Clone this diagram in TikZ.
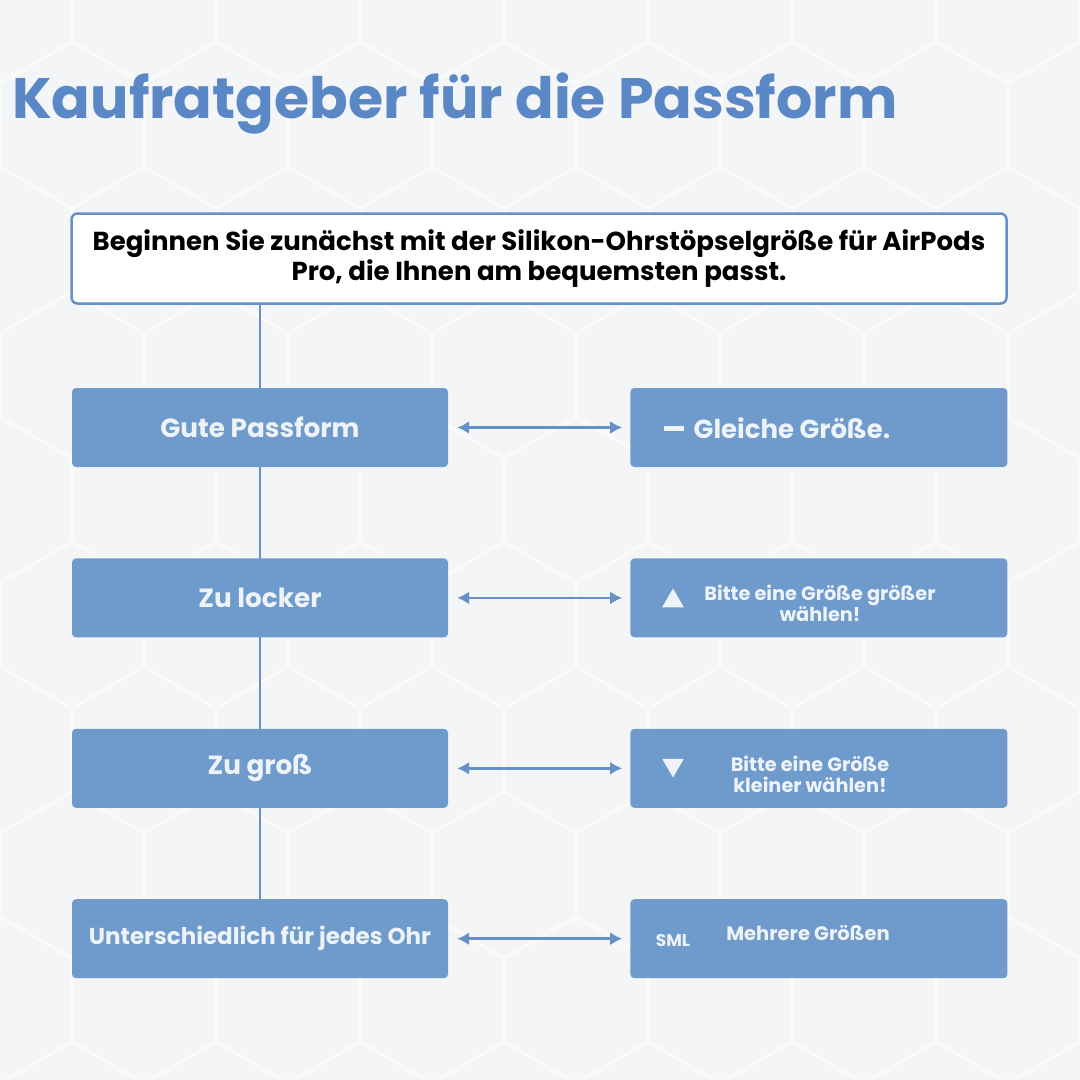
\documentclass[tikz,border=0pt]{standalone}
\usepackage{fontspec}
\setmainfont{Poppins}[BoldFont={Poppins Bold}]
\usetikzlibrary{arrows.meta, positioning, shapes.geometric}

\definecolor{boxblue}{HTML}{6F9ACC}
\definecolor{lineblue}{HTML}{6690C8}
\definecolor{titleblue}{HTML}{5A87C5}
\definecolor{paper}{HTML}{F4F5F7}
\definecolor{hexline}{HTML}{FAFAFB}
\definecolor{boxtext}{HTML}{EEF3F9}

\pgfdeclarelayer{bg}
\pgfdeclarelayer{lines}
\pgfsetlayers{bg,lines,main}

\begin{document}
\begin{tikzpicture}[
    x=1pt, y=-1pt,
    node distance=91pt and 182pt,
    fitbox/.style={rectangle, fill=boxblue, rounded corners=4pt,
                   minimum width=376pt, minimum height=79pt,
                   text=boxtext, font=\fontsize{26.3}{30}\selectfont\bfseries},
    advbox/.style={fitbox, minimum width=377pt},
    startbox/.style={rectangle, draw=lineblue, line width=2.5pt, fill=white,
                     rounded corners=6pt, minimum width=935pt, minimum height=90pt,
                     align=center, font=\fontsize{26}{30}\selectfont\bfseries},
    advtext/.style={text=boxtext, align=center, inner sep=0pt,
                    font=\fontsize{19.3}{21}\selectfont\bfseries},
    icon/.style={fill=boxtext, inner sep=0pt},
    arr/.style={{Latex[length=12pt,width=13pt]}-{Latex[length=12pt,width=13pt]},
                draw=lineblue, line width=2.5pt},
]
  \useasboundingbox (0,0) rectangle (1080,1080);
  % background with faint hexagons
  \begin{pgfonlayer}{bg}
    \fill[paper] (0,0) rectangle (1080,1080);
    \begin{scope}
      \clip (0,0) rectangle (1080,1080);
      \foreach \row in {0,...,9}
        \foreach \col in {0,...,8} {
          \pgfmathsetmacro\hx{\col*144 + mod(\row,2)*72}
          \pgfmathsetmacro\hy{\row*125}
          \draw[hexline, line width=3pt]
            (\hx,\hy) +(90:83) -- +(150:83) -- +(210:83) -- +(270:83)
            -- +(330:83) -- +(30:83) -- cycle;
        }
    \end{scope}
  \end{pgfonlayer}

  \node[anchor=base west, inner sep=0pt, text=titleblue,
        font=\fontsize{57}{64}\selectfont\bfseries] (title) at (12,118)
        {Kaufratgeber für die Passform};

  \node[startbox] (start) at (539,258.5)
    {Beginnen Sie zunächst mit der Silikon-Ohrstöpselgröße für AirPods\\
     Pro, die Ihnen am bequemsten passt.};

  % left column
  \node[fitbox] (good) at (260,427.5) {Gute Passform};
  \node[fitbox, below=of good]  (loose) {Zu locker};
  \node[fitbox, below=of loose] (big)   {Zu groß};
  \node[fitbox, below=of big, font=\fontsize{23}{27}\selectfont\bfseries]
    (diff) {Unterschiedlich für jedes Ohr};

  % right column
  \node[advbox, right=of good]  (same) {};
  \node[advbox, right=of loose] (up)   {};
  \node[advbox, right=of big]   (down) {};
  \node[advbox, right=of diff]  (many) {};

  \node[icon, minimum width=20pt, minimum height=5pt] (dash) at (674,428) {};
  \node[advtext, font=\fontsize{26}{30}\selectfont\bfseries] (samet) at (792,428)
    {Gleiche Größe.};

  \node[icon, regular polygon, regular polygon sides=3, minimum size=25pt]
    (upicon) at (673,601) {};
  \node[advtext] (upt) at (820,603) {Bitte eine Größe größer\\wählen!};

  \node[icon, regular polygon, regular polygon sides=3, minimum size=25pt,
        shape border rotate=180] (downicon) at (673,765) {};
  \node[advtext] (downt) at (810,774) {Bitte eine Größe\\kleiner wählen!};

  \node[advtext, font=\fontsize{17}{19}\selectfont\bfseries] (sml) at (673,940) {SML};
  \node[advtext, font=\fontsize{19.5}{22}\selectfont\bfseries] (manyt) at (808,933)
    {Mehrere Größen};

  % connectors
  \begin{pgfonlayer}{lines}
    \draw[lineblue, line width=2.5pt] (start.south -| good.center) -- (diff.north);
  \end{pgfonlayer}
  \draw[arr] ([xshift=9pt]good.east)  -- ([xshift=-8pt]same.west);
  \draw[arr] ([xshift=9pt]loose.east) -- ([xshift=-8pt]up.west);
  \draw[arr] ([xshift=9pt]big.east)   -- ([xshift=-8pt]down.west);
  \draw[arr] ([xshift=9pt]diff.east)  -- ([xshift=-8pt]many.west);
\end{tikzpicture}
\end{document}
